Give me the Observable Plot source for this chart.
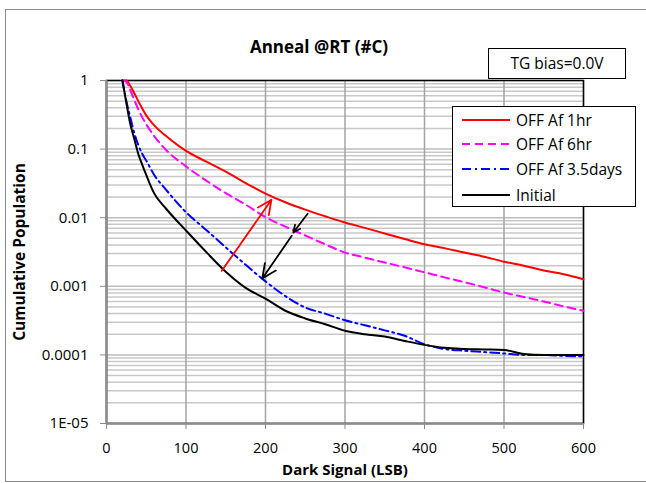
<!DOCTYPE html>
<html><head><meta charset="utf-8">
<script src="https://cdn.jsdelivr.net/npm/d3@7"></script>
<script src="https://cdn.jsdelivr.net/npm/@observablehq/plot@0.6"></script>
<style>
body{margin:0;background:#fff;font-family:"Open Sans",sans-serif;}
#wrap{position:relative;width:646px;height:483px;overflow:hidden;background:#fff;}
#wrap svg{position:absolute;left:0;top:0;}
#border{position:absolute;left:5px;top:9px;width:643px;height:473px;border:1.5px solid #8c8c8c;box-sizing:border-box;}
#tg{position:absolute;left:488px;top:48px;width:138px;height:31px;border:1.5px solid #000;background:#fff;box-sizing:border-box;font-size:15.5px;line-height:28px;text-align:center;color:#000;}
#legend{position:absolute;left:452px;top:106px;width:184px;height:101px;border:1.5px solid #000;background:#fff;box-sizing:border-box;}
.row{position:absolute;left:9px;height:20px;display:flex;align-items:center;font-size:15.5px;color:#000;white-space:nowrap;}
.row svg{position:static !important;margin-right:6px;}
</style></head>
<body>
<div id="wrap"><div id="border"></div></div>
<script>
// ---- data ----
const xs =        [20, 25, 30, 35, 40, 45, 50, 60, 75, 100, 125, 150, 175, 200, 225, 250, 275, 300, 325, 350, 375, 400, 425, 450, 475, 500, 525, 550, 575, 600];
const off1hr =    [1, 1, 0.83, 0.65, 0.5, 0.39, 0.31, 0.222, 0.155, 0.094, 0.066, 0.047, 0.032, 0.0225, 0.0168, 0.0131, 0.0105, 0.0085, 0.0071, 0.0059, 0.0049, 0.0041, 0.0036, 0.0031, 0.0027, 0.00228, 0.002, 0.0017, 0.0015, 0.00127];
const off6hr =    [1, 0.95, 0.72, 0.52, 0.38, 0.29, 0.23, 0.155, 0.097, 0.056, 0.035, 0.0228, 0.0155, 0.0102, 0.0074, 0.0055, 0.0041, 0.0031, 0.00262, 0.00222, 0.00189, 0.0016, 0.00135, 0.00115, 0.00097, 0.00081, 0.0007, 0.0006, 0.00051, 0.00044];
const off35days = [1, 0.5, 0.29, 0.17, 0.115, 0.085, 0.068, 0.042, 0.0255, 0.012, 0.0067, 0.0037, 0.00206, 0.00118, 0.00072, 0.00049, 0.0004, 0.00032, 0.00027, 0.000228, 0.00019, 0.000143, 0.000122, 0.000115, 0.00011, 0.000105, 0.0001, 0.0001, 0.000097, 0.000095];
const initial =   [1, 0.47, 0.23, 0.14, 0.085, 0.059, 0.042, 0.0226, 0.0135, 0.0065, 0.0032, 0.00163, 0.00095, 0.00066, 0.00044, 0.00034, 0.00028, 0.000225, 0.0002, 0.000185, 0.00016, 0.00014, 0.000127, 0.000122, 0.00012, 0.000118, 0.000103, 0.0001, 0.0001, 0.0001];
const seriesNames = ["OFF Af 1hr", "OFF Af 6hr", "OFF Af 3.5days", "Initial"];
const seriesColors = ["#ff0000", "#ff00ff", "#0000ff", "#000000"];
const seriesDash = [null, "8,5", "9,4,2,4", null];
const xTicks = [0, 100, 200, 300, 400, 500, 600];
const yTicks = [1, 0.1, 0.01, 0.001, 0.0001, 0.00001];
const yTickLabels = ["1", "0.1", "0.01", "0.001", "0.0001", "1E-05"];
// annotation arrows
const arrowX1 = [145, 253, 233];
const arrowY1 = [0.00168, 0.0114, 0.00546];
const arrowX2 = [207.5, 235, 196];
const arrowY2 = [0.0183, 0.0061, 0.0013];
const arrowColors = ["#ff0000", "#000000", "#000000"];
const title = "Anneal @RT (#C)";
const xLabel = "Dark Signal (LSB)";
const yLabel = "Cumulative Population";
const note = "TG bias=0.0V";

// ---- build ----
const allSeries = [off1hr, off6hr, off35days, initial];
const minor = [];
for (let e = -5; e < 0; e++) for (let m = 2; m <= 9; m++) minor.push(m * Math.pow(10, e));
const labelMap = new Map(yTicks.map((d, i) => [d, yTickLabels[i]]));
const arrows = arrowX1.map((d, i) => ({x1: d, y1: arrowY1[i], x2: arrowX2[i], y2: arrowY2[i], c: arrowColors[i]}));

const lineMarks = allSeries.map((vals, s) => Plot.line(xs.map((x, i) => ({x, y: vals[i]})), {
  x: "x", y: "y", stroke: seriesColors[s], strokeWidth: 2, curve: "monotone-x",
  strokeDasharray: seriesDash[s] || undefined
}));

const chart = Plot.plot({
  width: 646, height: 483,
  marginLeft: 106, marginRight: 63, marginTop: 80, marginBottom: 60,
  style: {fontFamily: "Open Sans, sans-serif", fontSize: "15px", color: "#000", background: "transparent"},
  x: {domain: [0, 600]},
  y: {type: "log", domain: [1e-5, 1]},
  marks: [
    Plot.ruleY(minor, {stroke: "#c8c8c8", strokeWidth: 1.5}),
    Plot.ruleY(yTicks, {stroke: "#bdbdbd", strokeWidth: 1.5}),
    Plot.ruleX(xTicks, {stroke: "#a3a3a3", strokeWidth: 1.5}),
    Plot.frame({stroke: "#000", strokeWidth: 1.5}),
    Plot.ruleX([0], {stroke: "#8c8c8c", strokeWidth: 2}),
    Plot.ruleY([1e-5], {stroke: "#8c8c8c", strokeWidth: 2}),
    Plot.axisX({ticks: xTicks, tickSize: 6, tickPadding: 13, fontSize: 14.5, label: null, stroke: "#8c8c8c", tickFormat: d => String(d)}),
    Plot.axisY({ticks: yTicks, tickSize: 6, tickPadding: 12, label: null, stroke: "#8c8c8c", tickFormat: d => labelMap.get(d)}),
    ...lineMarks,
    Plot.arrow(arrows, {x1: "x1", y1: "y1", x2: "x2", y2: "y2", stroke: "c", strokeWidth: 1.8, headLength: 13, headAngle: 50}),
    Plot.text([title], {frameAnchor: "top", dx: -26, dy: -40, text: d => d, textAnchor: "middle", fontWeight: "bold", fontSize: 17}),
    Plot.text([xLabel], {frameAnchor: "bottom", dy: 51, text: d => d, textAnchor: "middle", fontWeight: "bold", fontSize: 15}),
    Plot.text([yLabel], {frameAnchor: "left", dx: -86, rotate: -90, text: d => d, textAnchor: "middle", fontWeight: "bold", fontSize: 15.5})
  ]
});
const wrap = document.getElementById("wrap");
wrap.appendChild(chart);

const tg = document.createElement("div");
tg.id = "tg"; tg.textContent = note; wrap.appendChild(tg);

const legend = document.createElement("div");
legend.id = "legend";
const rowTops = [3, 26.5, 52, 78];
seriesNames.forEach((name, i) => {
  const row = document.createElement("div");
  row.className = "row";
  row.style.top = rowTops[i] + "px";
  const ns = "http://www.w3.org/2000/svg";
  const sw = document.createElementNS(ns, "svg");
  sw.setAttribute("width", 48); sw.setAttribute("height", 10);
  const ln = document.createElementNS(ns, "line");
  ln.setAttribute("x1", 0); ln.setAttribute("x2", 48); ln.setAttribute("y1", 5); ln.setAttribute("y2", 5);
  ln.setAttribute("stroke", seriesColors[i]); ln.setAttribute("stroke-width", 2);
  if (seriesDash[i]) ln.setAttribute("stroke-dasharray", seriesDash[i]);
  sw.appendChild(ln);
  row.appendChild(sw);
  const t = document.createElement("span"); t.textContent = name; row.appendChild(t);
  legend.appendChild(row);
});
wrap.appendChild(legend);
</script>
</body></html>
